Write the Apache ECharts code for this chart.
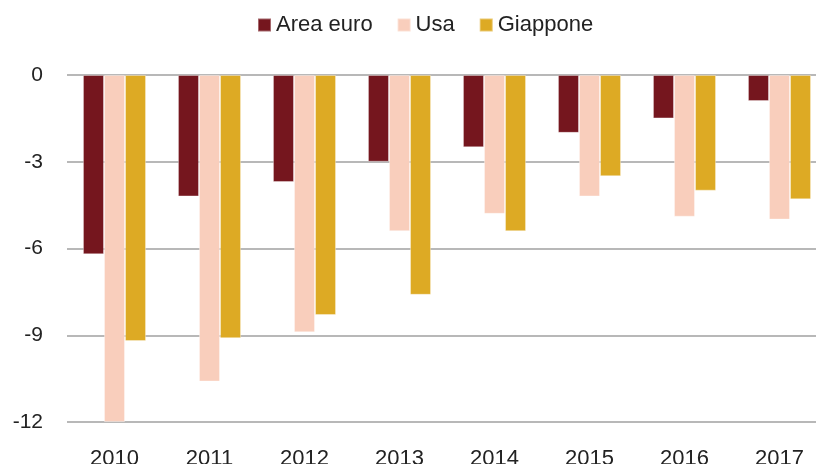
<!DOCTYPE html>
<html>
<head>
<meta charset="utf-8">
<script src="https://cdn.jsdelivr.net/npm/echarts@6/dist/echarts.min.js"></script>
<style>
  html, body { margin: 0; padding: 0; background: #fff; }
  #chart { width: 816px; height: 464px; }
</style>
</head>
<body>
<div id="chart"></div>
<script>
const years = ["2010", "2011", "2012", "2013", "2014", "2015", "2016", "2017"];
const areaEuro = [-6.2, -4.2, -3.7, -3.0, -2.5, -2.0, -1.5, -0.9];
const usa = [-12.0, -10.6, -8.9, -5.4, -4.8, -4.2, -4.9, -5.0];
const giappone = [-9.2, -9.1, -8.3, -7.6, -5.4, -3.5, -4.0, -4.3];
const yTicks = [0, -3, -6, -9, -12];

const font = "'Liberation Sans', sans-serif";
const chart = echarts.init(document.getElementById("chart"));

const barSeries = (name, data, color) => ({
  name,
  type: "bar",
  data,
  barGap: "0%",
  barCategoryGap: "33.6%",
  itemStyle: { color, borderColor: "rgba(255,255,255,0.35)", borderWidth: 1 }
});

chart.setOption({
  animation: false,
  legend: {
    top: 14,
    left: 257,
    padding: 0,
    itemWidth: 13,
    itemHeight: 13,
    itemGap: 24,
    icon: "rect",
    textStyle: { fontFamily: font, fontSize: 22, color: "#222" },
    data: ["Area euro", "Usa", "Giappone"]
  },
  grid: {
    // the plot runs past the right edge, as in the source image
    left: 67, width: 760, top: 75, height: 347,
    containLabel: false,
    outerBoundsMode: "none"
  },
  xAxis: {
    type: "category",
    data: years,
    axisLine: { show: false, onZero: false },
    axisTick: { show: false },
    axisLabel: { fontFamily: font, fontSize: 22, color: "#222", margin: 26 }
  },
  yAxis: {
    type: "value",
    min: -12,
    max: 0,
    interval: 3,
    axisLine: { show: false },
    axisTick: { show: false },
    axisLabel: {
      fontFamily: font, fontSize: 21, color: "#222", margin: 24,
      formatter: v => (yTicks.includes(v) ? String(v) : "")
    },
    splitLine: { lineStyle: { color: "#a0a0a0", width: 1.5 } }
  },
  series: [
    barSeries("Area euro", areaEuro, "#75161e"),
    barSeries("Usa", usa, "#f9cebc"),
    barSeries("Giappone", giappone, "#ddaa24")
  ]
});
</script>
</body>
</html>
